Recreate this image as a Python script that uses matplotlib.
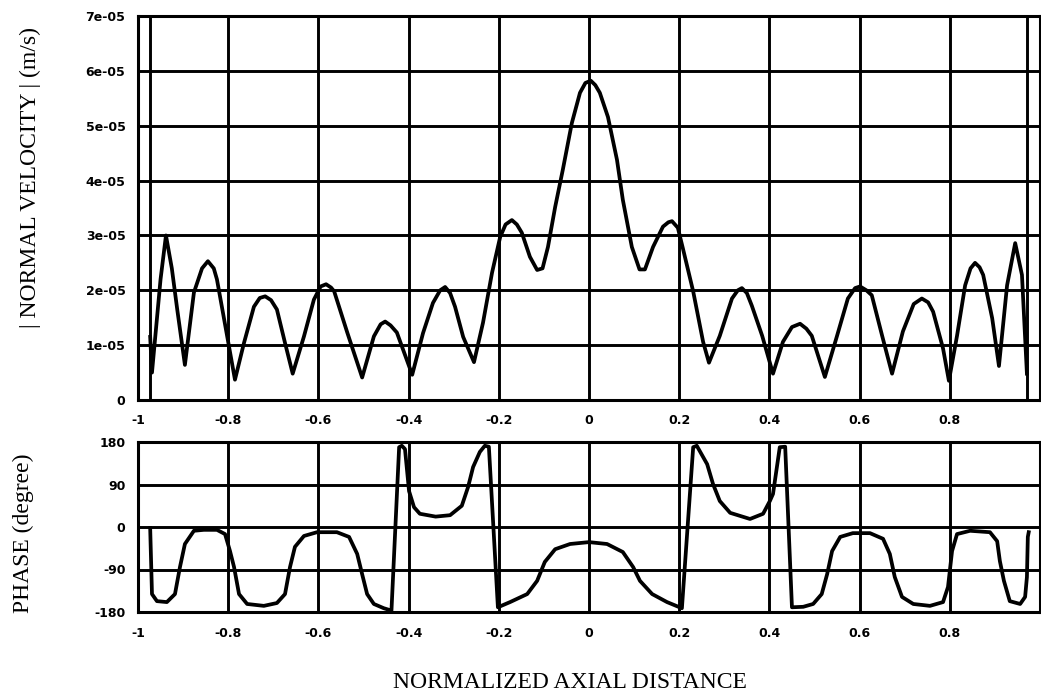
import matplotlib
matplotlib.use("Agg")
import matplotlib.pyplot as plt
import numpy as np

# |normal velocity| along the axis, values in units of 1e-5 m/s
vel_x = [-0.973, -0.969, -0.950, -0.938, -0.925, -0.913, -0.896, -0.876, -0.858, -0.845,
         -0.832, -0.825, -0.809, -0.785, -0.765, -0.743, -0.730, -0.718, -0.705, -0.692,
         -0.674, -0.657, -0.632, -0.610, -0.595, -0.583, -0.572, -0.565, -0.536, -0.503,
         -0.477, -0.462, -0.452, -0.440, -0.426, -0.392, -0.368, -0.346, -0.330, -0.319,
         -0.308, -0.297, -0.279, -0.255, -0.235, -0.215, -0.197, -0.185, -0.171, -0.160,
         -0.149, -0.131, -0.115, -0.103, -0.091, -0.075, -0.058, -0.038, -0.020, -0.008,
         0.004, 0.014, 0.024, 0.042, 0.062, 0.075, 0.095, 0.112, 0.124, 0.142,
         0.164, 0.176, 0.184, 0.197, 0.208, 0.231, 0.253, 0.266, 0.290, 0.317,
         0.330, 0.339, 0.350, 0.361, 0.384, 0.408, 0.430, 0.450, 0.468, 0.482,
         0.494, 0.523, 0.550, 0.574, 0.590, 0.601, 0.615, 0.627, 0.650, 0.672,
         0.696, 0.720, 0.738, 0.752, 0.763, 0.785, 0.798, 0.816, 0.834, 0.846,
         0.856, 0.866, 0.874, 0.894, 0.909, 0.927, 0.945, 0.960, 0.971]
vel_mag = [1.15, 0.50, 2.20, 3.00, 2.40, 1.65, 0.64, 1.96, 2.40, 2.53,
           2.40, 2.20, 1.47, 0.37, 1.04, 1.70, 1.86, 1.89, 1.82, 1.65,
           1.04, 0.48, 1.16, 1.83, 2.07, 2.11, 2.05, 1.98, 1.23, 0.41,
           1.16, 1.38, 1.43, 1.36, 1.23, 0.46, 1.22, 1.77, 2.00, 2.06,
           1.95, 1.70, 1.15, 0.69, 1.41, 2.32, 2.97, 3.20, 3.28, 3.20,
           3.05, 2.61, 2.37, 2.40, 2.79, 3.52, 4.20, 5.05, 5.60, 5.78,
           5.82, 5.74, 5.60, 5.16, 4.38, 3.65, 2.79, 2.38, 2.38, 2.79,
           3.16, 3.24, 3.26, 3.14, 2.77, 1.98, 1.06, 0.68, 1.17, 1.85,
           2.00, 2.04, 1.95, 1.72, 1.17, 0.48, 1.06, 1.33, 1.39, 1.30,
           1.17, 0.42, 1.17, 1.85, 2.04, 2.07, 2.00, 1.91, 1.17, 0.48,
           1.25, 1.75, 1.85, 1.78, 1.61, 0.94, 0.35, 1.17, 2.09, 2.40,
           2.50, 2.42, 2.28, 1.49, 0.62, 2.09, 2.86, 2.28, 0.48]

# phase in degrees
ph_x = [-0.973, -0.969, -0.958, -0.936, -0.918, -0.907, -0.896, -0.876, -0.854, -0.825,
        -0.807, -0.796, -0.787, -0.776, -0.758, -0.721, -0.692, -0.674, -0.663, -0.652,
        -0.632, -0.603, -0.559, -0.532, -0.514, -0.503, -0.492, -0.477, -0.455, -0.438,
        -0.421, -0.415, -0.408, -0.399, -0.388, -0.375, -0.340, -0.308, -0.282, -0.268,
        -0.257, -0.242, -0.231, -0.222, -0.202, -0.175, -0.137, -0.115, -0.098, -0.075,
        -0.042, 0.000, 0.040, 0.075, 0.098, 0.113, 0.140, 0.173, 0.206, 0.231,
        0.239, 0.262, 0.275, 0.290, 0.313, 0.357, 0.386, 0.401, 0.408, 0.423,
        0.435, 0.450, 0.475, 0.497, 0.516, 0.528, 0.539, 0.557, 0.585, 0.623,
        0.652, 0.667, 0.678, 0.694, 0.719, 0.756, 0.785, 0.796, 0.805, 0.816,
        0.845, 0.889, 0.905, 0.911, 0.920, 0.933, 0.956, 0.967, 0.971, 0.973,
        0.975]
ph_deg = [-2, -142, -157, -159, -142, -85, -36, -8, -6, -6,
          -15, -51, -85, -142, -163, -167, -161, -142, -85, -42,
          -19, -11, -11, -21, -57, -100, -142, -163, -172, -177,
          169, 172, 165, 76, 42, 28, 22, 25, 45, 85,
          127, 159, 172, 170, -170, -159, -142, -114, -74, -47,
          -36, -32, -36, -53, -85, -114, -142, -159, -172, 169,
          172, 133, 91, 55, 30, 17, 28, 55, 70, 169,
          170, -170, -169, -163, -142, -100, -51, -21, -13, -13,
          -25, -57, -106, -148, -163, -167, -159, -127, -51, -15,
          -8, -11, -30, -72, -114, -157, -163, -148, -106, -21,
          -11]

x_ticks = [-1, -0.8, -0.6, -0.4, -0.2, 0, 0.2, 0.4, 0.6, 0.8, 1]
x_labels = ["-1", "-0.8", "-0.6", "-0.4", "-0.2", "0", "0.2", "0.4", "0.6", "0.8", ""]
vel_ticks = [0, 1, 2, 3, 4, 5, 6, 7]
vel_labels = ["0", "1e-05", "2e-05", "3e-05", "4e-05", "5e-05", "6e-05", "7e-05"]
ph_ticks = [-180, -90, 0, 90, 180]
ph_labels = ["-180", "-90", "0", "90", "180"]
edge_lines = [-0.973, 0.972]

W, H = 1041, 693
fig = plt.figure(figsize=(W / 100, H / 100), dpi=100)

ax1 = fig.add_axes([138 / W, 1 - 400 / H, 902 / W, 384 / H])
ax2 = fig.add_axes([138 / W, 1 - 612 / H, 902 / W, 170 / H])

tick_font = dict(family="DejaVu Sans", weight="bold", size=9)

for ax in (ax1, ax2):
    ax.set_xlim(-1, 1)
    ax.grid(True, color="black", lw=2.1)
    ax.set_axisbelow(True)
    for s in ax.spines.values():
        s.set_linewidth(2.2)
    ax.tick_params(length=0)

ax1.plot(vel_x, np.array(vel_mag) * 1e-5, color="black", lw=2.7, solid_joinstyle="round")
for xv in edge_lines:
    ax1.axvline(xv, color="black", lw=2.1)
ax1.set_ylim(0, 7e-5)
ax1.set_yticks(np.array(vel_ticks) * 1e-5)
ax1.set_yticklabels(vel_labels, fontdict=tick_font)
ax1.set_xticks(x_ticks)
ax1.set_xticklabels(x_labels, fontdict=tick_font)
ax1.tick_params(axis="y", pad=9)
ax1.tick_params(axis="x", pad=10)

ax2.plot(ph_x, ph_deg, color="black", lw=2.7, solid_joinstyle="round")
ax2.set_ylim(-180, 180)
ax2.set_yticks(ph_ticks)
ax2.set_yticklabels(ph_labels, fontdict=tick_font)
ax2.set_xticks(x_ticks)
ax2.set_xticklabels(x_labels, fontdict=tick_font)
ax2.tick_params(axis="y", pad=9)
ax2.tick_params(axis="x", pad=11)

serif = "Liberation Serif"
fig.text(30 / W, 1 - 178 / H, "| NORMAL VELOCITY | (m/s)", rotation=90,
         ha="center", va="center", family=serif, size=17)
fig.text(23 / W, 1 - 533 / H, "PHASE (degree)", rotation=90,
         ha="center", va="center", family=serif, size=17)
fig.text(570 / W, 1 - 682 / H, "NORMALIZED AXIAL DISTANCE",
         ha="center", va="center", family=serif, size=17)

fig.savefig("out.png", dpi=100)
